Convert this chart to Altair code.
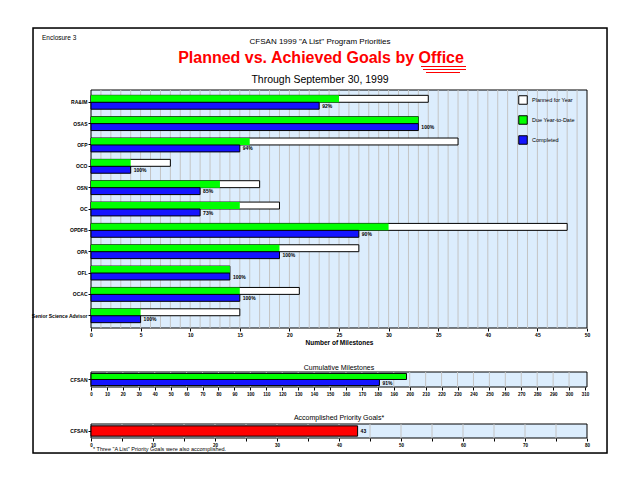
import altair as alt
import pandas as pd

# ---------------- data ----------------
offices = ["RA&IM", "OSAS", "OFP", "OCO", "OSN", "OC", "OPDFB", "OPA", "OFL", "OCAC",
           "Senior Science Advisor"]
planned = [34, 33, 37, 8, 17, 19, 48, 27, 14, 21, 15]
due = [25, 33, 16, 4, 13, 15, 30, 19, 14, 15, 5]
completed = [23, 33, 15, 4, 11, 11, 27, 19, 14, 15, 5]
pct_labels = ["92%", "100%", "94%", "100%", "85%", "73%", "90%", "100%", "100%", "100%", "100%"]
series = ["Planned for Year", "Due Year-to-Date", "Completed"]
series_colors = ["#ffffff", "#00ff00", "#1414ff"]
main_ticks = list(range(0, 51, 5))
main_grid = list(range(1, 50))

cum_label = ["CFSAN"]
cum_due = [198]
cum_completed = [181]
cum_pct = ["91%"]
cum_ticks = list(range(0, 311, 10))

acc_label = ["CFSAN"]
acc_value = [43]
acc_text = ["43"]
acc_ticks = list(range(0, 81, 5))

header_small = 'CFSAN 1999 "A List" Program Priorities'
header_title = "Planned vs. Achieved Goals by Office"
header_sub = "Through September 30, 1999"
enclosure = "Enclosure 3"
cum_title = "Cumulative Milestones"
acc_title = "Accomplished Priority Goals*"
footnote = '* Three "A List" Priority Goals were also accomplished.'
x_title = "Number of Milestones"

# ---------------- layout ----------------
W, H = 574, 425
PX0, PX1 = 58, 554
MY0, MY1 = 62, 300
CY0, CY1 = 344, 359
AY0, AY1 = 396, 410
FONT = "Liberation Sans"
BG = "#dcedfd"
GRID = "#c4c4c4"

one = pd.DataFrame({"k": [0]})


def text_layer(txt, x, y, size, color="black", weight="normal", align="center"):
    return alt.Chart(pd.DataFrame({"t": [txt]})).mark_text(
        fontSize=size, color=color, fontWeight=weight, align=align,
        baseline="middle", font=FONT
    ).encode(text="t:N", x=alt.value(x), y=alt.value(y))


def hline(x0, x1, y, color):
    return alt.Chart(one).mark_rule(color=color, strokeWidth=1).encode(
        x=alt.value(x0), x2=alt.value(x1), y=alt.value(y))


def panel_bg(y0, y1):
    return alt.Chart(one).mark_rect(fill=BG, stroke="black", strokeWidth=1).encode(
        x=alt.value(PX0), x2=alt.value(PX1), y=alt.value(y0), y2=alt.value(y1))


frame = alt.Chart(one).mark_rect(fillOpacity=0, stroke="black", strokeWidth=1.5).encode(
    x=alt.value(0), x2=alt.value(W), y=alt.value(0), y2=alt.value(H))

header = alt.layer(
    frame,
    text_layer(enclosure, 9, 9.5, 6.5, align="left"),
    text_layer(header_small, 287, 14, 8),
    text_layer(header_title, 288, 30, 16, color="#ff0000", weight="bold"),
    hline(388, 433, 38.5, "#ff0000"),
    hline(390, 433, 41.5, "#ff0000"),
    hline(393, 427, 44.5, "#ff0000"),
    text_layer(header_sub, 287, 52, 10.5),
    text_layer(cum_title, 306, 340, 7),
    text_layer(acc_title, 306, 390, 7),
    text_layer(footnote, 60, 421, 5.5, align="left"),
)

# ---------------- main panel ----------------
rows = []
for o, p, d, c in zip(offices, planned, due, completed):
    rows.append(dict(office=o, series=series[0], value=p, slot="a"))
    rows.append(dict(office=o, series=series[1], value=d, slot="a"))
    rows.append(dict(office=o, series=series[2], value=c, slot="b"))
df_main = pd.DataFrame(rows)
df_lab = pd.DataFrame({"office": offices, "value": completed, "pct": pct_labels})
df_grid = pd.DataFrame({"value": main_grid})

main_x_axis = alt.Axis(
    orient="bottom", offset=-(H - MY1), values=main_ticks, grid=False, domain=False,
    tickSize=3, tickColor="black", labelFontSize=5, labelFont=FONT, labelFontWeight="bold",
    labelColor="black", labelPadding=1, labelFlush=False, labelOverlap=False,
    title=x_title, titleFontSize=6.5, titleFont=FONT, titleFontWeight="bold",
    titleColor="black", titlePadding=2)
main_y_axis = alt.Axis(
    orient="left", offset=-PX0, title=None, domain=False, grid=False, tickSize=3,
    tickColor="black", labelFontSize=5, labelFont=FONT, labelFontWeight="bold",
    labelColor="black", labelPadding=1)

x_main = alt.X("value:Q", scale=alt.Scale(domain=[0, 50], range=[PX0, PX1], nice=False),
               axis=main_x_axis, stack=None)
y_main = alt.Y("office:N", sort=offices,
               scale=alt.Scale(domain=offices, range=[MY0, MY1], paddingInner=0.35,
                               paddingOuter=0.25),
               axis=main_y_axis)
yoff_main = alt.YOffset("slot:N", scale=alt.Scale(domain=["a", "b"], paddingInner=0,
                                                   paddingOuter=0))
fill_main = alt.Fill(
    "series:N", scale=alt.Scale(domain=series, range=series_colors),
    legend=alt.Legend(orient="none", legendX=485, legendY=67, title=None,
                      symbolType="square", symbolSize=72, symbolStrokeColor="black",
                      symbolStrokeWidth=1, symbolOpacity=1, labelFontSize=5.5,
                      labelFont=FONT, labelColor="black", rowPadding=6, labelOffset=4,
                      padding=0))

main_grid_layer = alt.Chart(df_grid).mark_rule(color=GRID, strokeWidth=1).encode(
    x=x_main, y=alt.value(MY0), y2=alt.value(MY1))

bars_planned = alt.Chart(df_main).transform_filter(
    alt.datum.series == series[0]).mark_bar(stroke="black", strokeWidth=1).encode(
    x=x_main, y=y_main, yOffset=yoff_main, fill=fill_main)
bars_due = alt.Chart(df_main).transform_filter(
    alt.datum.series == series[1]).mark_bar(strokeWidth=0).encode(
    x=x_main, y=y_main, yOffset=yoff_main, fill=fill_main)
bars_done = alt.Chart(df_main).transform_filter(
    alt.datum.series == series[2]).mark_bar(stroke="black", strokeWidth=1).encode(
    x=x_main, y=y_main, yOffset=yoff_main, fill=fill_main)
main_labels = alt.Chart(df_lab).mark_text(
    align="left", baseline="middle", dx=3, dy=3.5, fontSize=5, fontWeight="bold",
    font=FONT, color="black").encode(x=x_main, y=y_main, text="pct:N")

main_panel = alt.layer(panel_bg(MY0, MY1), main_grid_layer, bars_planned, bars_due,
                       bars_done, main_labels)

# ---------------- cumulative panel ----------------
df_cum = pd.DataFrame({
    "label": cum_label * 2,
    "value": cum_due + cum_completed,
    "series": [series[1], series[2]],
    "slot": ["a", "b"],
})
df_cum_lab = pd.DataFrame({"label": cum_label, "value": cum_completed, "pct": cum_pct})
df_cum_grid = pd.DataFrame({"value": cum_ticks[1:-1]})

cum_x_axis = alt.Axis(
    orient="bottom", offset=-(H - CY1), values=cum_ticks, grid=False, domain=False,
    tickSize=3, tickColor="black", labelFontSize=4.5, labelFont=FONT,
    labelFontWeight="bold", labelColor="black", labelPadding=1, labelFlush=False,
    labelOverlap=False, title=None)
small_y_axis = alt.Axis(
    orient="left", offset=-PX0, title=None, domain=False, grid=False, tickSize=3,
    tickColor="black", labelFontSize=5, labelFont=FONT, labelFontWeight="bold",
    labelColor="black", labelPadding=1)

x_cum = alt.X("value:Q", scale=alt.Scale(domain=[0, 310], range=[PX0, PX1 - 2], nice=False),
              axis=cum_x_axis, stack=None)
y_cum = alt.Y("label:N", scale=alt.Scale(domain=cum_label, range=[CY0, CY1],
                                         paddingInner=0, paddingOuter=0.12),
              axis=small_y_axis)
yoff_cum = alt.YOffset("slot:N", scale=alt.Scale(domain=["a", "b"], paddingInner=0,
                                                  paddingOuter=0))
cum_colors = alt.Fill("series:N", scale=alt.Scale(domain=series[1:], range=series_colors[1:]),
                      legend=None)

cum_panel = alt.layer(
    panel_bg(CY0, CY1),
    alt.Chart(df_cum_grid).mark_rule(color=GRID, strokeWidth=1).encode(
        x=x_cum, y=alt.value(CY0), y2=alt.value(CY1)),
    alt.Chart(df_cum).mark_bar(stroke="black", strokeWidth=1).encode(
        x=x_cum, y=y_cum, yOffset=yoff_cum, fill=cum_colors),
    alt.Chart(df_cum_lab).mark_text(
        align="left", baseline="middle", dx=3, dy=3, fontSize=5, fontWeight="bold",
        font=FONT, color="black").encode(x=x_cum, y=y_cum, text="pct:N"),
)

# ---------------- accomplished panel ----------------
df_acc = pd.DataFrame({"label": acc_label, "value": acc_value, "txt": acc_text})
df_acc_grid = pd.DataFrame({"value": acc_ticks[1:-1]})

acc_x_axis = alt.Axis(
    orient="bottom", offset=-(H - AY1), values=acc_ticks, grid=False, domain=False,
    tickSize=3, tickColor="black", labelFontSize=4.5, labelFont=FONT,
    labelFontWeight="bold", labelColor="black", labelPadding=1, labelFlush=False,
    labelOverlap=False, title=None,
    labelExpr="datum.value % 10 === 0 ? datum.label : ''")
x_acc = alt.X("value:Q", scale=alt.Scale(domain=[0, 80], range=[PX0, PX1], nice=False),
              axis=acc_x_axis)
y_acc = alt.Y("label:N", scale=alt.Scale(domain=acc_label, range=[AY0, AY1],
                                         paddingInner=0, paddingOuter=0.18),
              axis=small_y_axis)

acc_panel = alt.layer(
    panel_bg(AY0, AY1),
    alt.Chart(df_acc_grid).mark_rule(color=GRID, strokeWidth=1).encode(
        x=x_acc, y=alt.value(AY0), y2=alt.value(AY1)),
    alt.Chart(df_acc).mark_bar(fill="#ff0000", stroke="black", strokeWidth=1).encode(
        x=x_acc, y=y_acc),
    alt.Chart(df_acc).mark_text(
        align="left", baseline="middle", dx=3, fontSize=5, fontWeight="bold",
        font=FONT, color="black").encode(x=x_acc, y=y_acc, text="txt:N"),
)

chart = alt.layer(header, main_panel, cum_panel, acc_panel).resolve_scale(
    x="independent", y="independent", yOffset="independent", fill="independent"
).resolve_axis(x="independent", y="independent").properties(
    width=W, height=H, autosize=alt.AutoSizeParams(type="none"),
    padding={"left": 25, "top": 20, "right": 3, "bottom": 3},
).configure_view(strokeWidth=0).configure(font=FONT)

chart.save("out.html", embed_options={"renderer": "svg", "actions": False})
